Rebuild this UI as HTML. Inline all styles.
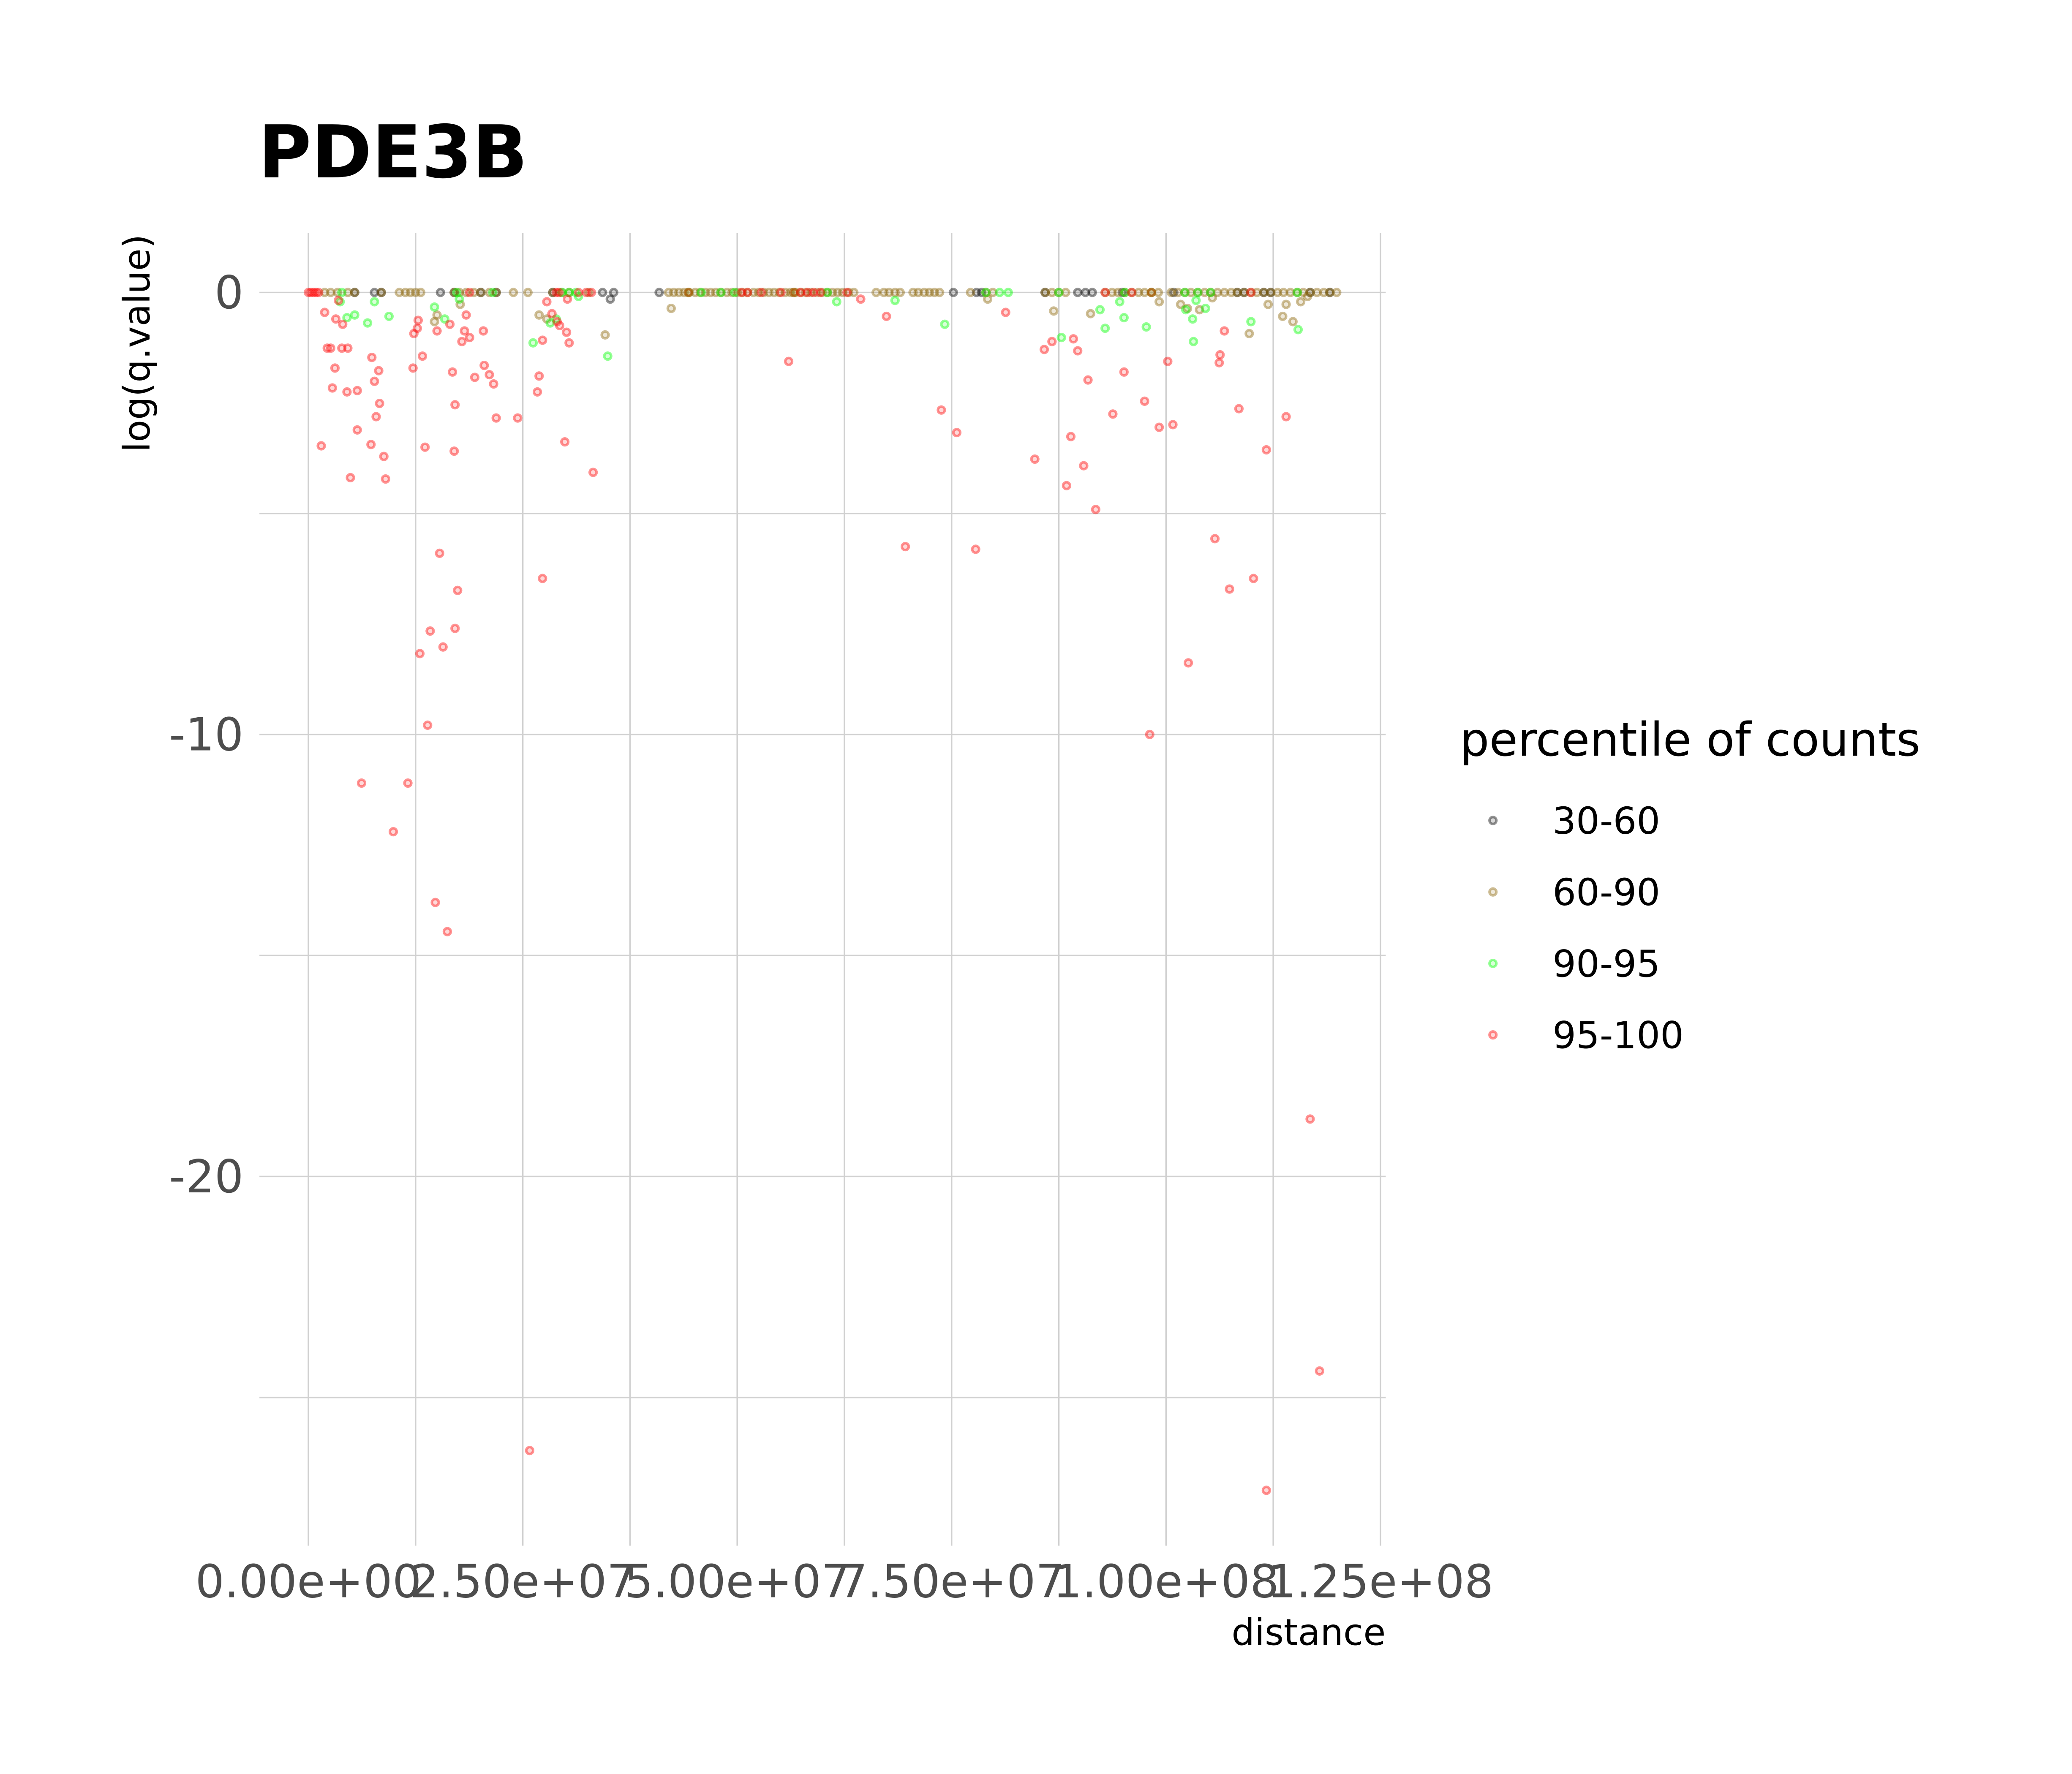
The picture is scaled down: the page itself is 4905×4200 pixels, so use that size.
<!DOCTYPE html>
<html><head><meta charset="utf-8"><style>
html,body{margin:0;padding:0;background:#fff;}
svg{display:block;font-family:"DejaVu Sans","Liberation Sans",sans-serif;}
</style></head><body>
<svg id="chart" width="4905" height="4200" viewBox="0 0 1565.5 1340.5" xmlns="http://www.w3.org/2000/svg">
<rect width="1565.5" height="1340.5" fill="#fff"/>
<text x="195" y="134" font-size="55" font-weight="bold" fill="#000">PDE3B</text>
<g id="grid"></g>
<g id="points"></g>
<g id="axes"></g>
<text transform="translate(113,177) rotate(-90)" text-anchor="end" font-size="27.5" fill="#000">log(q.value)</text>
<text x="1047" y="1243" text-anchor="end" font-size="27.5" fill="#000">distance</text>
<g>
<text x="1103" y="571" font-size="35" fill="#000">percentile of counts</text>
<g id="legend-entries"></g>
</g>
</svg>
<script>
const xTicks=[0,25,50,75,100,125];
const xTickLabels=["0.00e+00","2.50e+07","5.00e+07","7.50e+07","1.00e+08","1.25e+08"];
const yTicks=[0,-10,-20];
const yTickLabels=["0","-10","-20"];
const legendLabels=["30-60","60-90","90-95","95-100"];
// x values in millions (Mb), y = log(q.value)
const blackX=[5.4,7.7,8.5,15.4,17.0,20.1,21.9,28.5,34.3,35.6,40.9,75.2,77.9,78.5,85.9,89.7,90.6,91.4,94.9,100.9,108.3,109.1,111.4,112.2,116.8,119.1,35.2];
const blackY=[0,0,0,0,0,0,0,0,0,0,0,0,0,0,0,0,0,0,0,0,0,0,0,0,0,0,-0.15];
const oliveX=[1.9,2.6,3.4,4.6,5.4,8.5,10.6,11.3,11.9,12.5,13.1,17.0,17.6,18.4,19.3,20.1,21.1,21.9,23.9,25.6,28.5,29.5,30.4,32.7,
42.0,42.6,43.2,43.8,44.4,45.1,45.7,46.3,46.9,47.5,48.1,48.8,49.4,50.0,50.6,51.2,51.9,52.5,53.1,53.7,54.3,54.9,55.6,56.2,56.8,57.4,58.0,58.6,59.3,59.9,60.5,61.1,61.7,62.3,63.0,63.6,
66.2,67.1,67.7,68.4,69.0,70.5,71.1,71.8,72.4,73.0,73.6,77.2,79.0,79.8,85.9,86.7,87.5,88.3,92.9,93.7,94.4,95.2,96.0,96.8,97.5,98.3,99.1,
100.6,101.4,102.2,102.9,103.7,104.5,105.2,106.0,106.8,107.6,108.3,109.1,109.9,110.6,111.4,112.2,113.0,113.7,114.5,115.3,116.0,116.8,117.6,118.4,119.1,119.9,
15.0,14.7,17.7,26.9,27.8,34.6,42.3,86.9,91.2,101.7,102.5,103.9,105.4,109.7,111.9,113.6,114.0,114.8,115.7,116.5,79.2,99.2];
const oliveY=[0,0,0,0,0,0,0,0,0,0,0,0,0,0,0,0,0,0,0,0,0,0,0,0,
0,0,0,0,0,0,0,0,0,0,0,0,0,0,0,0,0,0,0,0,0,0,0,0,0,0,0,0,0,0,0,0,0,0,0,0,
0,0,0,0,0,0,0,0,0,0,0,0,0,0,0,0,0,0,0,0,0,0,0,0,0,0,0,
0,0,0,0,0,0,0,0,0,0,0,0,0,0,0,0,0,0,0,0,0,0,0,0,0,0,
-0.51,-0.66,-0.27,-0.51,-0.6,-0.96,-0.36,-0.42,-0.48,-0.27,-0.36,-0.39,-0.12,-0.93,-0.27,-0.54,-0.27,-0.66,-0.21,-0.09,-0.15,-0.21];
const greenX=[3.9,17.3,21.5,29.6,30.4,31.2,44.3,45.8,48.1,49.7,56.6,60.5,79.0,80.6,81.6,87.5,95.2,98.3,102.2,103.7,105.2,115.3,
3.7,4.5,5.4,6.9,7.7,9.4,14.7,15.9,17.6,26.2,28.2,28.9,31.5,34.9,61.6,68.4,74.2,87.8,92.3,92.9,94.6,95.1,97.7,102.3,103.1,103.2,104.6,109.9,115.4,103.5];
const greenY=[0,0,0,0,0,0,0,0,0,0,0,0,0,0,0,0,0,0,0,0,0,0,
-0.21,-0.57,-0.51,-0.69,-0.21,-0.54,-0.33,-0.6,-0.15,-1.14,-0.69,-0.6,-0.09,-1.44,-0.21,-0.18,-0.72,-1.02,-0.39,-0.81,-0.21,-0.57,-0.78,-0.39,-0.6,-1.11,-0.36,-0.66,-0.84,-0.18];
const redX=[0,0.3,0.6,0.9,1.2,31.5,32.4,33.0,44.3,50.5,55.1,56.6,57.4,58.2,58.9,59.7,62.8,51.2,52.8,92.9,96.0,98.3,109.9,28.9,29.2,18.8,
1.5,1.9,2.2,2.6,2.8,3.1,3.2,3.5,3.9,4.0,4.5,4.6,4.9,5.7,5.7,7.3,7.4,7.7,7.9,8.2,8.3,8.8,9.0,6.2,9.9,11.6,
12.2,12.3,12.7,12.8,13.3,13.0,13.6,13.9,14.2,14.8,15.0,15.3,15.7,16.2,16.5,16.8,17.0,17.1,17.1,17.4,17.9,18.2,18.4,18.8,19.4,20.4,20.5,21.1,21.6,21.9,24.4,
25.8,26.7,26.9,27.3,27.3,28.4,29.0,29.3,29.9,30.1,30.4,33.2,56.0,64.4,67.4,69.6,73.8,75.6,77.8,81.3,84.7,85.8,86.7,88.4,88.9,89.2,89.7,90.4,90.9,91.8,93.8,95.1,97.5,98.1,99.2,100.2,100.8,102.6,105.7,106.2,106.3,106.8,107.4,108.5,110.2,111.7,111.7,114.0,116.8,117.9,27.8,30.2];
const redY=[0,0,0,0,0,0,0,0,0,0,0,0,0,0,0,0,0,0,0,0,0,0,0,0,0,0,
-3.47,-0.45,-1.26,-1.26,-2.16,-1.71,-0.6,-0.18,-1.26,-0.72,-2.25,-1.26,-4.19,-3.11,-2.22,-3.44,-1.47,-2.01,-2.81,-1.77,-2.51,-3.71,-4.22,-11.1,-12.2,-11.1,
-1.71,-0.93,-0.81,-0.63,-1.44,-8.17,-3.5,-9.79,-7.66,-13.8,-0.87,-5.9,-8.02,-14.46,-0.72,-1.8,-3.59,-2.54,-7.6,-6.74,-1.11,-0.87,-0.51,-1.02,-1.92,-0.87,-1.65,-1.86,-2.07,-2.84,-2.84,
-26.2,-2.25,-1.89,-6.47,-1.08,-0.48,-0.66,-0.75,-3.38,-0.9,-1.14,-4.07,-1.56,-0.15,-0.54,-5.75,-2.66,-3.17,-5.81,-0.45,-3.77,-1.29,-1.11,-4.37,-3.26,-1.05,-1.32,-3.92,-1.98,-4.91,-2.75,-1.8,-2.46,-10.0,-3.05,-1.56,-2.99,-8.38,-5.57,-1.59,-1.41,-0.87,-6.71,-2.63,-6.47,-3.56,-27.1,-2.81,-18.7,-24.4,-0.21,-0.15];

const NS="http://www.w3.org/2000/svg";
const X0=233, XPER=162/25, Y0=221, YPER=33.4;
function sx(v){return X0+v*XPER;}
function sy(v){return Y0-v*YPER;}
const grid=document.getElementById('grid');
const axes=document.getElementById('axes');
function line(g,x1,y1,x2,y2,w){const l=document.createElementNS(NS,'line');l.setAttribute('x1',x1);l.setAttribute('y1',y1);l.setAttribute('x2',x2);l.setAttribute('y2',y2);l.setAttribute('stroke','#d0d0d0');l.setAttribute('stroke-width',w);g.appendChild(l);return l;}
for(let v=0;v<=125;v+=12.5){
 const l=line(grid,sx(v),176,sx(v),1168,1.1);
 
 
}
for(let v=0;v>=-25;v-=5){
 const l=line(grid,196,sy(v),1047,sy(v),1.1);
 
 
}
xTicks.forEach((v,i)=>{
 const t=document.createElementNS(NS,'text');
 t.setAttribute('x',sx(v));t.setAttribute('y',1207);t.setAttribute('text-anchor','middle');
 t.setAttribute('font-size','34.5');t.setAttribute('fill','#4d4d4d');t.textContent=xTickLabels[i];
 
 
 axes.appendChild(t);
});
yTicks.forEach((v,i)=>{
 const t=document.createElementNS(NS,'text');
 t.setAttribute('x',184);t.setAttribute('y',sy(v)+12);t.setAttribute('text-anchor','end');
 t.setAttribute('font-size','34.5');t.setAttribute('fill','#4d4d4d');t.textContent=yTickLabels[i];
 
 
 axes.appendChild(t);
});
const pts=document.getElementById('points');
function dot(g,cx,cy,col){
 const c=document.createElementNS(NS,'circle');
 c.setAttribute('cx',cx);c.setAttribute('cy',cy);c.setAttribute('r',2.6);
 c.setAttribute('fill',col);c.setAttribute('fill-opacity','0.15');
 c.setAttribute('stroke',col);c.setAttribute('stroke-opacity','0.42');c.setAttribute('stroke-width','1.9');
 g.appendChild(c);return c;
}
const series=[[blackX,blackY,'#000000','30-60'],[oliveX,oliveY,'#8B6508','60-90'],[greenX,greenY,'#00FF00','90-95'],[redX,redY,'#FF0000','95-100']];
series.forEach(s=>{
 s[0].forEach((x,i)=>{
  const c=dot(pts,sx(x),sy(s[1][i]),s[2]);
  
  
 });
});
const leg=document.getElementById('legend-entries');
series.forEach((s,i)=>{
 const y=620+i*54;
 const c=dot(leg,1128,y,s[2]);
 
 
 const t=document.createElementNS(NS,'text');
 t.setAttribute('x',1173);t.setAttribute('y',y+10);t.setAttribute('font-size','28');t.setAttribute('fill','#000');
 t.textContent=legendLabels[i];
 
 
 leg.appendChild(t);
});
</script>
</body></html>
